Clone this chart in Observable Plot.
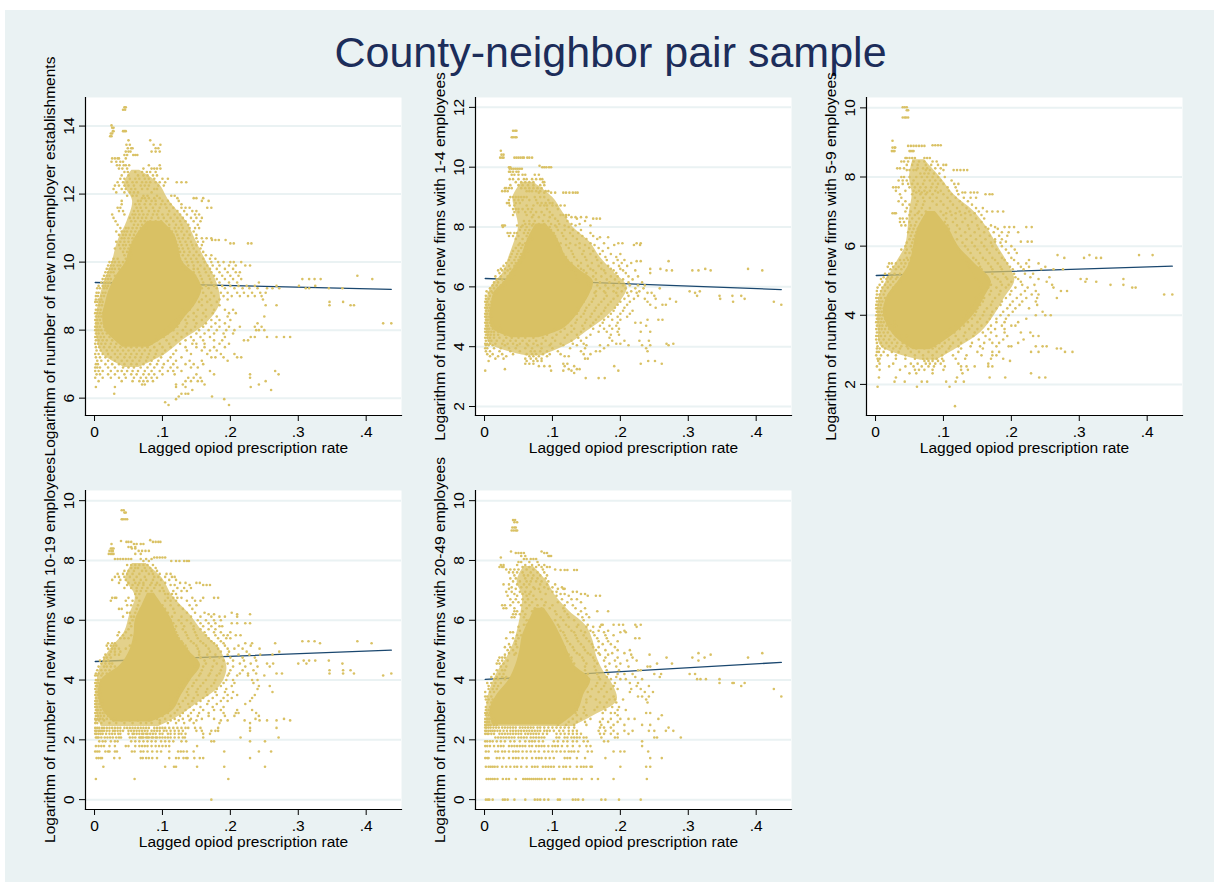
<!DOCTYPE html>
<html><head><meta charset="utf-8">
<script src="https://cdn.jsdelivr.net/npm/d3@7"></script>
<script src="https://cdn.jsdelivr.net/npm/@observablehq/plot@0.6"></script>
<style>
html,body{margin:0;padding:0;background:#fff}
#bg{position:absolute;left:5px;top:10px;width:1209px;height:872px;background:#eaf2f3}
#title{position:absolute;left:5px;width:1211px;top:27px;text-align:center;font:43px "Liberation Sans",sans-serif;color:#1c2d5a;line-height:50px}
.p{position:absolute}
svg{overflow:visible}
</style></head><body>
<div id="bg"></div>
<div id="title">County-neighbor pair sample</div>
<script>
const xTicks=[0,.1,.2,.3,.4];
const xLabel="Lagged opiod prescription rate";
const fitX=[.001,.437];

// Rows: [y, x (in thousandths)...]
// core = solid overlap region, halo = speckled region, as y with low and high x (thousandths)
const label1="Logarithm of number of new non-employer establishments";
const yTicks1=[6,8,10,12,14];
const fit1=[9.4,9.2];
const coreY1=[7.5,8,8.4,8.8,9.2,9.6,10,10.4,10.8,11.2];
const coreLo1=[42,16,12,16,22,32,46,52,62,78];
const coreHi1=[80,118,134,150,158,150,130,124,118,100];
const haloY1=[6.9,7.3,7.7,8.2,8.8,9.4,10,10.6,11.2,11.8,12.3,12.7];
const haloLo1=[45,12,4,2,6,14,26,34,48,56,44,55];
const haloHi1=[65,105,130,165,185,180,165,150,135,110,95,66];
const rows1=[
[14.55,44,46],[14.48,42,45],[14.02,25],[13.95,26,28],[13.85,27,28,42,44,46],[13.78,24,26],[13.7,23,25],
[13.58,50,82],[13.45,47,52,87,97],[13.35,49,54,56,90,94],[13.25,46,50,53,84,90,96],[13.15,44,48,57,60,63],[13.05,26,30,34,36,46],[12.95,25,32,38,42],
[12.85,33,37,43,46,51,80,96],[12.75,36,41,48,72,84,88,92,97],[12.65,44,49,60,70,77,82,90],[12.55,40,50,64,72,78,86,92],[12.45,38,44,52,60,66,74,80,88,100,108],
[12.35,34,42,48,56,62,70,76,82,90,96,104,121,128,135],[12.25,30,36,44,50,58,68,74,80,94,102],[12.15,28,40,46,54,60,70,78,88,92],[12.05,32,44,52,58,64,84],
[11.95,48,56,62,72,78,92,113,118],[11.88,70,74,80,88,96,122,146,150,160],[11.8,40,64,68,76,84,90,100,108,124,158,168],[11.7,40,60,66,74,82,90,98,104,112,128],
[11.6,34,38,62,68,76,86,96,106,116,128,134,140,166,172],[11.5,36,42,58,64,70,80,88,94,110,122,132,144,150],[11.4,26,44,56,60,66,72,78,86,92,100,108,118,126,136,148,154],
[11.3,28,52,58,64,70,76,84,94,102,112,122,130,142,150,158],[11.2,31,54,60,68,74,82,90,98,106,116,126,134,146,156],[11.1,34,58,64,70,110,120,128,138,152],
[11,38,46,50,56,62,68,76,110,118,124,130,140,148,154],[10.9,32,40,44,48,54,60,66,114,120,128,136,146],[10.8,36,42,46,52,58,64,116,122,132,140,150],[10.7,40,44,50,56,62,118,124,130,138,150,158,165,172],
[10.65,173,178,183,193],[10.55,200,205,226,231],[10.6,32,38,44,50,56,120,126,134,142,152,160],[10.5,36,42,46,52,122,128,136,144,150,158],[10.4,30,38,44,50,54,124,130,138,146,156],
[10.3,42,48,52,126,132,140,150,160],[10.2,44,50,54,124,130,138,146,154,164,172],[10.1,28,34,46,52,126,134,142,150,160,170,178],[10,22,26,30,36,42,48,128,136,144,152,162,172,182,190,200,205,216],
[9.9,20,24,28,34,38,44,130,138,146,156,166,174,184,198,208,222,229],[9.8,18,22,26,30,36,134,146,152,162,170,180,192,204],[9.7,16,20,24,28,146,154,164,172,184,196,208,214],
[9.6,14,18,22,30,148,156,168,176,188,200,212,387],[9.5,12,16,20,24,150,158,170,180,192,204,216,306,316,324,333,409],[9.4,10,14,18,22,152,160,172,184,198,210,242],
[9.3,6,12,16,20,156,164,176,188,200,212,224,236,268,301,325],[9.23,4,8,14,18,158,168,180,192,206,218,228,240,254,262,272,311,316,345,365],[9.1,3,6,12,16,160,172,186,196,210,220,232,244,252],
[9,2,5,10,14,152,164,176,190,202,214,226,236,246],[8.9,2,6,10,148,158,170,184,196,248],[8.83,1,4,8,12,142,154,166,180,346,366],[8.73,3,7,11,144,158,172,184,252,268,346,377,382],[8.6,2,5,9,14,130,140,152,164,176,192,204],
[8.5,1,4,8,12,134,146,160,174,198,208],[8.4,2,6,10,126,138,150,164,180,196,250],[8.3,1,4,8,14,120,134,146,158,172,184,200],[8.2,2,5,10,112,124,136,150,164,178,192,240,425,437],
[8.1,1,4,8,14,110,122,134,148,160,172,184,198,214,236,246],[8,1,3,6,10,16,104,116,130,142,154,168,180,194,206,238,242,250],[7.9,2,6,12,18,96,108,122,136,150,162,176,190,204],
[7.8,1,4,9,14,22,90,102,116,128,142,156,170,192,230,236,254,268,279,288],[7.7,2,6,12,18,26,34,92,106,120,134,146,160,176,188,220,226],[7.6,1,5,10,16,24,32,40,48,56,64,72,84,96,110,126,144,150,162,184,198],
[7.5,2,7,14,22,30,38,46,54,62,70,78,88,100,112,134,150,162,176,192],[7.4,3,9,18,26,34,42,50,58,66,74,82,92,104,120,136,158,170,180],[7.3,1,6,12,20,30,38,46,54,62,70,80,90,100,116,142,166,186,206],
[7.2,2,8,16,24,34,44,52,60,68,78,88,98,112,128,172,178,190,210,216],[7.1,4,10,20,30,40,48,56,66,76,84,94,108,120,140,158,196],[7,2,5,16,26,36,44,54,62,72,82,92,102,116,134,146,160],
[6.9,1,4,8,20,30,42,50,58,68,78,88,100,112,122,142,152],[6.8,1,6,12,24,34,40,48,56,64,74,84,96,108,116,128,170,266],[6.7,3,8,20,30,44,54,62,72,80,88,100,118,150,176,271,229],
[6.6,1,12,24,36,46,58,68,76,84,92,138,146,156,229],[6.5,6,40,56,66,72,78,86,134,142,152,158,252],[6.4,70,74,120,130,162,242],[6.33,2,30,120,134,230],[6.24,260,144],[6.13,29,128,134,138],[6.05,124,173],[5.97,120,191],[5.88,104],[5.8,109,198]
];

const label2="Logarithm of number of new firms with 1-4 employees";
const yTicks2=[2,4,6,8,10,12];
const fit2=[6.28,5.91];
const coreY2=[4.3,4.6,5,5.4,5.8,6.2,6.6,7,7.4,7.8,8.1];
const coreLo2=[40,12,8,10,14,30,42,54,60,68,76];
const coreHi2=[80,116,134,146,156,160,138,120,112,102,90];
const haloY2=[3.7,4.1,4.5,5,5.5,6,6.5,7,7.5,8,8.5,9,9.5];
const haloLo2=[60,8,3,2,3,10,28,36,44,50,46,42,55];
const haloHi2=[85,125,150,180,200,210,190,170,155,130,115,100,72];
const rows2=[
[11.22,42,45,47],[11,40,42,45,47],[10.55,24],[10.42,25,28],[10.32,23,26,28,44,47,50,53,56,58,63,66,70],[10.05,81],[10,36,38,85,88,91,95,98],[9.95,37,40,43,46,49,52,55],[9.85,36,38,42,47,50],
[9.75,40,44,50,56,60,74,80],[9.6,37,42,50,58,62,70,76,82,85],[9.5,46,54,60,66,72,86,88],[9.4,38,50,56,64,72,82,88],[9.3,30,32,36,40,54,60,66,72,78,84],[9.2,26,30,34,62,66,70,76,82,90,94],
[9.15,80,88,98,104,116,120,125,130,134,137],[9,38,42,46,50,54,58,62,74,82,88],[8.9,36,44,50,56,66,76,94],[8.8,33,36,46,52,78,84,90,96,100],[8.72,37,44,62,72,82,88,92,100,106,112,118],
[8.6,42,46,50,56,64,70,92,108],[8.5,44,50,60,68,76,84,96],[8.4,42,62,72,88,100,112,116,120,124],[8.33,70,80,96,120,128,134,142,150],[8.28,104,136,160,165,170],[8.2,58,66,74,86,94,108,122,148],
[8.1,60,66,72,80,88,98,110,128,140],[8.05,26,28,30,48,56,70,90,104,118,134,156],[8,27,54,62,74,84,96,106,124],[7.9,52,60,66,98,108,118,130,142],[7.8,34,38,44,48,58,64,102,114,126,138,156],
[7.7,36,42,50,62,68,104,116,130,144,160],[7.66,170,182],[7.6,46,56,64,70,106,120,136,150,166],[7.46,52,60,66,112,126,140,156,176,197,203,224,230],[7.4,50,56,62,108,120,134,148,162,191,220,229],
[7.3,46,54,60,112,124,140,154,168,182],[7.2,42,50,58,64,112,128,146,160,174],[7.1,40,48,54,60,116,130,144,156,170,186,200],[7,38,46,52,58,120,132,148,164,178,194],
[6.9,36,44,50,56,122,136,150,166,180,196,206],[6.86,224,230,271],[6.8,32,40,46,52,118,128,142,158,172,190,202,216],[6.7,28,36,44,50,124,138,152,168,182,198,210],[6.6,24,30,38,46,128,142,156,172,186,200,259,244,325,388],
[6.55,20,26,34,42,132,146,160,176,190,204,222,268,276,306,315,333,409],[6.46,22,30,38,134,150,164,178,194,208,244],[6.35,16,24,34,44,134,148,160,172,186,196,212,226],[6.25,18,26,36,40,136,150,164,180,192,204,218],
[6.15,14,20,28,138,152,170,184,198,212,232],[6.05,12,18,24,30,154,166,178,190,204,214,226,236],[5.95,8,14,20,26,156,170,182,196,208,222,234,258],[5.85,3,10,16,152,164,176,190,202,216,228,302,317],
[5.8,6,12,18,150,162,178,194,210,224,240,310,246],[5.7,2,8,14,150,164,180,196,212,226,250,313,346,365,378],[5.6,2,6,12,148,160,176,190,206,220,236,252,273,347,383],[5.5,1,4,10,146,158,172,186,200,214,240,282,366,426],
[5.4,2,6,10,142,154,168,182,196,210,244,262,267,437],[5.3,1,4,8,138,150,164,178,192,206,252],[5.2,2,6,10,138,148,162,176,190,204,218],[5.1,1,4,8,136,146,158,172,186,200,214],
[5,1,3,7,11,130,142,156,168,182,196,210],[4.9,2,5,9,126,136,150,164,176,188,200,240,256,262],[4.8,1,4,8,12,122,134,148,160,174,196,222,230],[4.7,2,5,10,16,22,116,128,144,156,170,184,194,238],
[4.6,1,4,7,12,18,24,104,118,132,146,160,176,188,198],[4.5,1,3,6,10,14,20,26,98,112,128,142,168,180,196,230,244],[4.4,2,5,9,14,20,30,44,56,68,80,92,106,122,136,156,186,198],
[4.3,1,4,8,14,22,32,40,50,60,72,86,100,118,138,150,184],[4.2,2,6,10,18,28,38,46,56,66,76,90,104,128,142,188,206,228,242],[4.1,1,4,8,16,26,34,42,52,62,72,84,98,112,130,146,194,200,268,278],
[4.05,2,6,12,30,48,64,78,96,116,136,150,170,182,212,232,244,271],[3.95,1,4,14,24,36,46,60,70,84,100,126,148,176,238],[3.85,2,8,22,38,52,68,74,82,92,108,142,164,170,240],
[3.75,4,12,26,42,62,70,76,86,96,112,146,156],[3.68,8,20,32,66,72,80,92,118,124],[3.6,16,28,60,68,76,84,148,152],[3.52,6,62,72,78,84,241,251],[3.43,60,66,72,116,122,230,261],[3.35,80,88,96,118,132,191],[3.25,30,124,136,140],
[3.2,1,98,116,128,197],[3.12,132],[2.95,149,168,177]
];

const label3="Logarithm of number of new firms with 5-9 employees";
const yTicks3=[2,4,6,8,10];
const fit3=[5.15,5.42];
const coreY3=[3,3.4,4,4.5,5,5.5,6,6.5,7];
const coreLo3=[56,28,12,16,34,50,56,62,76];
const coreHi3=[80,112,144,160,170,146,122,108,88];
const haloY3=[2.7,3.1,3.5,4,4.5,5,5.5,6,6.5,7,7.5,8,8.5];
const haloLo3=[66,8,4,3,5,16,30,44,48,50,54,50,55];
const haloHi3=[90,125,155,175,190,205,195,180,165,145,115,95,72];
const rows3=[
[10.02,40,43,46],[9.93,46,48],[9.72,40,43,45,48],[9.05,25],[8.92,84,88,92,96],[8.9,48,52,56,60,64,68,72],[8.85,25,28,29],[8.75,24,26,28,50,52,54,56],[8.55,44,46,50,54,58,72,76,80],
[8.45,38,42,48,56,64,72,84,90],[8.35,46,54,62,74,82,92,100,104],[8.25,32,36,42,62,70,76,88,96],[8.2,46,50,56,60,74,80,100,115,120,125,130,135],[8.1,66,72,78,86,94],[8,38,42,50,60,68,76,84,92,102],
[7.9,34,40,46,56,72,80,88,96,112],[7.8,40,48,54,62,70,84,92,100,116,122],[7.7,26,30,34,50,58,66,74,82,90,106,118],[7.6,30,44,56,64,72,80,88,96,108,120],[7.55,60,68,76,92,128,132,140,145,150],
[7.5,36,54,66,74,84,100,112,122,162,168,172],[7.4,38,58,70,80,90,106,118,130,140,148],[7.3,34,44,62,72,84,96,110,124,136],[7.2,40,50,60,70,90,100,114,128,142],[7.1,46,58,68,80,106,120,134,148,158],
[7,44,52,64,74,96,110,124,138,152,164,172,180,188],[6.95,25,28,30,62,84,104,118,132,146],[6.9,50,58,68,100,112,126,140,156],[6.8,36,40,46,54,64,104,118,132,148,160],[6.7,36,42,50,60,102,114,128,142,156],
[6.6,38,44,52,58,106,120,136,150,170],[6.55,162,176,190,197,204,222,230],[6.5,50,56,62,108,124,138,152,166,180],[6.4,48,54,60,106,118,132,146,160,174,186,196,210],[6.3,52,58,110,126,140,154,168,182,194],
[6.2,50,56,112,120,134,148,162,176,186],[6.13,176,192,214,224,230],[6.1,46,54,60,116,128,142,156,170,184],[6,44,52,58,118,132,146,160,172,186,200],[5.9,38,46,54,122,136,150,164,178,192,205],
[5.8,44,50,126,140,154,168,182,196,208],[5.74,388,408,315,268],[5.66,46,52,128,144,158,172,186,200,307,325,332,278],[5.6,36,42,48,134,148,162,176,190,204,226],[5.5,20,24,30,38,44,50,136,152,166,180,194,210,222,240],
[5.4,18,26,34,42,138,154,170,184,198,214,226,250],[5.33,22,30,38,140,156,172,186,202,218,244,262,276],[5.2,14,20,28,36,144,158,172,188,204,220,232],[5.1,12,18,24,32,146,162,176,192,206,228,256],
[5.05,8,16,22,30,148,164,180,194,210,240,302,311,365],[4.97,10,18,26,36,152,168,184,200,214,252,309,325],[4.88,6,14,22,30,156,170,186,196,216,234,260,346,365],[4.8,3,10,18,26,154,166,178,192,206,224,262,378,383],
[4.7,2,8,14,24,156,170,184,200,220,236,273,282],[4.6,2,6,12,20,154,168,182,198,214,230,240,425,437],[4.5,1,4,8,14,148,160,176,192,208,222,238,267],[4.4,2,6,10,16,146,158,172,186,202,216,236],
[4.3,1,4,8,14,142,154,170,184,198,212,238],[4.2,1,3,7,12,140,150,164,178,194,206,226],[4.1,2,5,9,14,136,148,160,172,188,202,246],[4,1,4,7,11,16,134,146,158,170,184,196,236,250,258],
[3.9,2,5,9,14,18,130,142,154,168,178,192,222],[3.8,1,4,8,12,18,28,126,136,150,164,178,190,210],[3.7,2,6,10,16,24,30,118,130,142,156,170,186,200,206],[3.6,1,5,9,14,20,28,110,124,138,150,166,176,190],
[3.5,2,6,12,18,26,32,104,116,132,146,158,170,190,214,228],[3.4,1,4,8,14,22,30,38,46,106,118,130,144,162,178,194,232,240],[3.3,1,5,12,20,28,36,44,108,122,134,152,168,188,218],
[3.2,2,8,16,24,32,40,48,94,102,114,126,142,160,172,182,210],[3.1,3,10,20,30,38,46,54,88,98,110,122,140,154,178,196,200,236,246,252],[3.04,2,6,14,26,36,48,60,72,84,94,108,126,158,267,273],
[2.94,2,5,12,24,34,52,64,78,90,104,122,150,172,182,229,240,279,290],[2.84,1,8,18,30,44,58,70,84,98,114,134,156,172,178],[2.74,3,6,30,44,58,70,76,84,90,98,118,132,170,188],[2.68,4,72,78,84,92,100,198],
[2.6,6,26,52,62,74,80,88,96,122,166],[2.52,2,20,44,56,68,78,86,102,126,134,146,166,172],[2.42,6,36,58,64,72,84,100,126,136],[2.32,50,60,84,128,229],[2.2,5,30,168,120,241,250,191],[2.08,28,68,76,43,118,130,104],[1.93,3,61,109],[1.37,117]
];

const label4="Logarithm of number of new firms with 10-19 employees";
const yTicks4=[0,2,4,6,8,10];
const fit4=[4.62,5];
const coreY4=[2.6,3,3.5,4,4.5,5,5.5,6,6.5,6.9];
const coreLo4=[28,12,6,10,38,52,58,60,70,78];
const coreHi4=[84,116,128,142,156,138,122,114,100,88];
const haloY4=[2.45,2.8,3.2,3.8,4.4,5,5.6,6.2,6.8,7.4,7.9];
const haloLo4=[10,4,2,3,8,22,44,52,60,46,56];
const haloHi4=[95,125,150,185,195,185,160,140,115,100,76];
const rows4=[
[9.68,40,43],[9.6,44,46],[9.38,40,42,45,48],[8.68,82],[8.65,39],[8.62,47,50,54,86,90,94,97],[8.55,25,58,62,68,72],[8.45,50,54,60],[8.4,24,26,28,55,60],[8.32,22,25,27,65,70,75,80],[8.22,21,24,26,28,60,68],
[8.1,88,92,96,100,104],[8.05,30,34,38,42,46,50,54,68,76,84],[7.98,72,80,113,120,125,132,136,139],[7.85,48,54,60,66,72,78,86],[7.75,54,60,64,74,82,90],[7.65,44,50,58,70,76,84,92],[7.55,34,42,48,56,66,80,86,96,106,112],
[7.45,30,36,44,52,62,74,88,94,104,114,118],[7.35,26,38,46,58,68,76,86,98,110,120],[7.25,36,50,60,66,72,84,92,104,126,134,150,155],[7.18,48,56,64,72,82,90,96,112,118,140,160,165,170],[7.08,44,54,62,70,78,88,100,122,132,142],
[6.98,62,68,76,84,96,102,116,128,136],[6.88,60,66,104,108,114,120],[6.75,26,30,32,50,62,108,116,122,128,144,160,176,182],[6.65,24,46,56,66,104,112,120,136,148,156],[6.5,48,54,64,100,112,124,140,150],[6.38,36,40,62,68,104,116,130,144],
[6.25,48,52,60,108,118,136,148,162,202],[6.2,168,176,210,229],[6.12,42,54,58,114,128,142,156,172,184,192,210],[6,56,112,124,136,152,164,176,186],[5.9,52,116,128,142,156,168,178,202,210,222,229],[5.8,54,120,132,146,160,172,184,188],
[5.7,50,118,130,146,156,168,178],[5.6,36,46,120,134,148,162,176,186,200],[5.5,34,42,54,122,136,150,164,178,190,196,208,215],[5.4,38,44,50,124,138,152,168,182,194,200],[5.3,60,128,142,156,172,186,306,315,324,387],
[5.23,20,26,30,130,146,160,176,190,222,232,332,408,266],[5.15,18,24,28,32,52,134,150,164,180,192,212,230],[5.05,20,26,30,36,46,136,152,168,182,196,206,218,243],[4.95,24,30,38,138,154,170,186,198,224,272],
[4.85,16,22,30,36,140,154,166,178,196,212,228,244,262],[4.75,14,18,24,142,156,170,184,200,218,236],[4.65,8,14,20,150,162,176,190,204,220,238,308,316,325,345],[4.55,10,16,22,26,150,164,180,196,214,230,254,263,300,312,365],
[4.45,6,14,18,24,30,148,160,174,188,204,222,240,258],[4.33,4,10,16,22,146,158,172,186,200,218,234,346,377,366],[4.22,2,6,12,18,144,156,170,184,198,214,226,238,268,276,346,366,382,437],[4.15,1,4,10,140,154,168,180,196,210,226,250,425],
[4,2,5,9,136,150,164,178,194,204,232,240],[3.9,1,3,6,130,146,160,176,190,206,234],[3.8,2,4,8,128,144,156,172,186,202,242,258],[3.7,1,6,10,124,138,152,166,180,194,240],[3.6,2,4,8,122,136,150,164,178,192,204,262],
[3.5,1,5,9,124,138,152,166,180,196,210,236],[3.4,2,6,10,120,134,146,160,174,190,202,232],[3.3,1,4,8,12,116,130,144,156,168,186,196,229],[3.2,1,3,7,11,112,124,138,150,166,180,222],[3.1,1,4,8,12,112,126,140,156,174,190],
[3,2,5,9,14,110,122,134,146,160,176,186,210,232],[2.9,1,4,8,12,16,108,118,130,142,154,168,190,208,212,238],[2.8,2,5,9,14,20,100,112,126,138,152,168,192,206,242],[2.7,1,4,8,12,18,24,30,82,92,104,118,130,142,158,176,237,279],
[2.65,2,6,14,28,40,52,64,80,96,112,124,140,150,186,196,221,243,254,268,288],[2.56,1,4,10,22,32,44,56,68,76,84,96,108,120,132,146,184,229],[2.4,1,4,7,11,14,18,22,26,30,34,38,44,48,52,56,60,64,68,72,76,80,88,92,96,100,104,110,116,122,128,134,138,148,156,182,229,268],
[2.3,1,3,6,8,11,14,18,22,27,30,34,38,42,50,54,58,62,66,70,74,78,84,88,92,96,102,106,112,118,124,130,150,158,172,178,182,229],[2.2,1,3,6,9,12,17,22,26,30,35,38,50,56,58,62,66,70,72,76,78,82,86,90,96,100,108,112,118,124,128,134,160,170],
[2.08,2,4,6,10,15,19,23,27,32,36,39,52,56,60,66,68,70,72,76,78,80,84,86,90,92,96,100,104,108,112,118,124,130,133,160,215,271],[1.95,7,12,16,24,30,34,54,60,66,72,78,84,90,98,104,110,116,128,135,172,176,229,251],
[1.79,2,6,10,14,22,30,46,50,60,66,70,74,78,84,90,95,100,105,110,151],[1.61,1,4,7,16,20,22,30,33,55,59,68,72,78,85,92,98,110,123,127,131,136,146,191,242,260],
[1.39,3,6,9,11,29,37,68,71,76,80,85,92,110,120,124,131,135,137,147,155,160,229],[1.1,13,104,117,120,151,191,251],[.69,2,59,197],[0,172]
];

const label5="Logarithm of number of new firms with 20-49 employees";
const yTicks5=[0,2,4,6,8,10];
const fit5=[4.02,4.59];
const coreY5=[2.5,3,3.5,4,4.5,5,5.5,6,6.4];
const coreLo5=[12,8,18,36,46,52,56,66,74];
const coreHi5=[112,138,146,156,132,122,112,100,88];
const haloY5=[2.45,2.8,3.3,3.8,4.3,4.8,5.3,5.8,6.3,6.8,7.3,7.8];
const haloLo5=[3,3,4,10,20,34,44,50,54,56,48,58];
const haloHi5=[130,160,195,190,175,165,160,150,125,105,92,72];
const rows5=[
[9.35,42,45],[9.28,44,48],[9.1,41,44,46],[9,40,43,46,48],[8.3,39,84],[8.25,46,50,54,58,88,92],[8.15,54,60,94,96,98],[8.1,24],[8.05,58,62,68,72,76],[7.95,50,54,66,78],[7.85,24,28,48,60,70,80,88],[7.78,22,26,28,56,66,76,84,92,96],
[7.7,32,38,44,50,62,72,86,104],[7.68,112,118,122,132,136],[7.6,36,42,48,56,68,78,88],[7.5,44,58,64,72,82,92],[7.4,38,46,60,70,78,90],[7.3,42,52,62,68,76,84,94],[7.2,28,36,48,58,66,82,92,104],[7.1,40,54,62,72,88,100,114],
[7.05,36,46,74,80,94,108,116,118],[6.95,32,40,52,60,68,82,100,106,130,136],[6.88,44,56,66,90,112,118,142,148],[6.82,34,48,62,72,106,124,152,164,170],[6.7,38,46,56,64,76,84,114,128,136],[6.6,42,50,60,70,90,108,122,142],
[6.5,26,30,38,54,66,78,88,100,118,130],[6.4,28,32,44,62,74,84,96,116,134,148],[6.3,44,48,56,70,82,104,118,142,166,182],[6.2,42,46,52,60,106,122,138,150],[6.1,40,44,58,112,124,144,154],[6,62,66,104,116,132,146],
[5.85,58,62,108,120,138,152,172,174,190,198,204,222,230],[5.78,50,110,124,136,150,160,170,224],[5.65,52,112,128,142,156,168,182,206],[5.6,38,42,66,116,132,148,160,176,200,208],[5.5,48,54,118,134,146,162,178,190],
[5.4,32,42,50,120,136,150,166,180,222,228],[5.3,46,122,138,154,168,182,196],[5.2,36,46,126,142,158,174,186],[5.1,30,38,48,118,130,146,160,168,192],[5,34,42,116,132,148,164,178,196,214],[4.9,36,46,120,136,152,168,188,206,315,409],
[4.85,30,44,124,140,156,170,182,216,243,333],[4.75,22,26,30,128,144,160,178,196,218,268,306,324,388],[4.65,20,26,34,128,146,162,176,192,210,224,315],[4.55,18,22,28,132,150,166,184,200,254,276],
[4.45,24,32,128,148,162,178,194,212,240,244],[4.33,18,26,30,134,148,164,180,198,226,230],[4.2,14,22,28,152,166,182,196,206,218,250,260,302,310],[4.1,10,18,26,32,150,168,180,194,222,258],[4.03,14,20,30,154,170,186,200,208,232,313,318,326,346],
[3.9,4,10,16,24,152,166,178,192,214,226,365,367,383,346],[3.8,6,14,20,150,164,176,190,224,242,378],[3.7,6,12,18,144,158,172,186,196,216,230,426],[3.6,1,8,14,140,152,168,180,214,236,248],[3.45,1,4,10,142,156,176,190,226,232,242,437],
[3.35,2,6,12,138,150,164,184,192,204,238],[3.25,4,10,136,150,170,180,194,240],[3.1,2,8,134,146,166,176,188,198],[3,2,6,10,136,148,162,178,196,208],[2.9,1,4,8,134,146,174,186,192,238,244],[2.82,2,6,10,136,150,196,261],
[2.7,1,4,7,10,14,110,118,130,142,156,174,186,200,212,221,256],[2.6,1,4,7,12,14,112,124,136,148,170,182,196],[2.5,1,3,6,9,14,18,108,120,132,150,172,190,206,232,244],[2.41,1,3,6,9,13,17,21,26,30,34,38,42,46,52,56,60,64,68,72,78,82,88,94,100,106,112,118,124,132,170,176,186,271],
[2.3,1,3,6,9,12,15,19,23,28,33,38,42,46,50,54,58,62,66,70,74,78,82,88,92,96,102,110,116,124,130,136,168,178,190,206,218,242,250,267,278],[2.2,1,4,6,10,14,22,26,30,34,38,42,46,50,54,60,64,68,72,76,80,86,92,106,112,118,124,130,136,142,170,176,186,196,212],
[2.08,16,20,24,28,32,36,40,44,50,54,58,62,68,72,76,80,84,88,106,110,118,122,128,132,136,140,146,150,172,192,196,250,254,289],[1.95,1,4,8,12,18,24,30,38,44,52,60,66,70,74,80,86,102,108,116,122,130,136,146,152,176,182,232],
[1.79,1,4,8,14,20,24,28,36,40,44,48,52,56,60,66,70,76,80,84,88,94,100,104,108,114,122,130,140,150,156,232],[1.61,2,6,16,20,26,30,36,42,46,50,56,62,68,74,80,88,94,100,106,112,118,124,128,132,138,152,158,190,200,206,241],
[1.39,1,4,6,18,22,28,36,42,46,50,56,62,70,76,80,84,90,96,102,118,122,126,136,148,178,244,261],[1.1,2,6,9,12,15,19,26,32,38,44,48,54,62,70,74,78,86,90,94,98,102,110,116,120,126,136,142,146,150,156,158,200,238,244],
[.69,3,6,9,12,15,19,27,32,36,46,57,60,63,66,69,72,75,78,81,84,89,95,100,103,117,121,125,131,135,143,158,167,190,239],[0,2,5,7,12,27,30,34,44,60,74,78,82,88,94,108,111,130,134,138,145,172,178,198,230]
];

const sand="#d9c164", navy="#1a476f", grid="#eaf2f3";
const ink="#000";
const font='"Liberation Sans",sans-serif';
const tickFmt=d=>d===0?"0":String(d).replace(/^0/,"");
const band=(ys,lo,hi)=>ys.map((y,i)=>({y,x1:lo[i]/1000,x2:hi[i]/1000}));

function panel(spec){
  const pts=spec.rows.flatMap(([y,...xs])=>xs.map(x=>({x:x/1000,y})));
  const fit=fitX.map((x,i)=>({x,y:spec.fit[i]}));
  const mL=60,mT=50,mB=50,mR=10;
  const svg=Plot.plot({
    width:316+mL+mR,height:spec.h+mT+mB,
    marginLeft:mL,marginRight:mR,marginTop:mT,marginBottom:mB,
    style:{background:"transparent",fontFamily:font,fontSize:"15.5px",overflow:"visible",color:ink},
    x:{domain:[-.0133,.452]},
    y:{domain:spec.domain},
    marks:[
      Plot.frame({fill:"#fff",stroke:"none"}),
      Plot.ruleY(spec.yTicks,{stroke:grid,strokeWidth:2}),
      Plot.line(fit,{x:"x",y:"y",stroke:navy,strokeWidth:1.3}),
      Plot.areaX(spec.halo,{y:"y",x1:"x1",x2:"x2",fill:sand,fillOpacity:.75,curve:"catmull-rom"}),
      Plot.areaX(spec.core,{y:"y",x1:"x1",x2:"x2",fill:sand,curve:"catmull-rom"}),
      Plot.dot(pts,{x:"x",y:"y",r:1.3,fill:sand,stroke:"none"}),
      Plot.frame({anchor:"left",stroke:ink,strokeWidth:1.2}),
      Plot.frame({anchor:"bottom",stroke:ink,strokeWidth:1.2}),
      Plot.axisY({ticks:spec.yTicks,tickSize:6,tickPadding:6,tickRotate:-90,label:spec.label,labelAnchor:"center",labelArrow:"none",labelOffset:42,fontSize:15.5,stroke:ink}),
      Plot.axisX({ticks:xTicks,tickFormat:tickFmt,tickSize:6,tickPadding:4,label:xLabel,labelAnchor:"center",labelArrow:"none",labelOffset:37,fontSize:15.5,stroke:ink})
    ]
  });
  const d=document.createElement("div");
  d.className="p";d.style.left=(spec.left-mL)+"px";d.style.top=(spec.top-mT)+"px";
  d.appendChild(svg);document.body.appendChild(d);
}
panel({label:label1,yTicks:yTicks1,fit:fit1,core:band(coreY1,coreLo1,coreHi1),halo:band(haloY1,haloLo1,haloHi1),rows:rows1,domain:[5.49,14.84],left:85.3,top:97,h:318});
panel({label:label2,yTicks:yTicks2,fit:fit2,core:band(coreY2,coreLo2,coreHi2),halo:band(haloY2,haloLo2,haloHi2),rows:rows2,domain:[1.70,12.33],left:475.3,top:97,h:318});
panel({label:label3,yTicks:yTicks3,fit:fit3,core:band(coreY3,coreLo3,coreHi3),halo:band(haloY3,haloLo3,haloHi3),rows:rows3,domain:[1.10,10.30],left:866,top:97,h:318});
panel({label:label4,yTicks:yTicks4,fit:fit4,core:band(coreY4,coreLo4,coreHi4),halo:band(haloY4,haloLo4,haloHi4),rows:rows4,domain:[-.33,10.34],left:85.3,top:490,h:319});
panel({label:label5,yTicks:yTicks5,fit:fit5,core:band(coreY5,coreLo5,coreHi5),halo:band(haloY5,haloLo5,haloHi5),rows:rows5,domain:[-.33,10.34],left:475.3,top:490,h:319});
</script>
</body></html>
